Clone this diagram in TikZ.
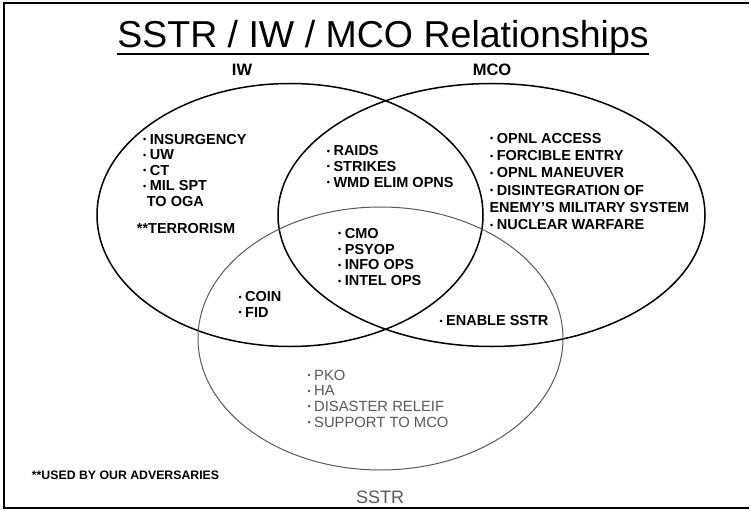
\documentclass[tikz,border=0pt]{standalone}
\usepackage{fontspec}
\setmainfont{Liberation Sans}
\definecolor{sstrgray}{gray}{0.35}
\newcommand{\itm}{\raisebox{1.6pt}{\fontsize{9}{9}\selectfont\textbullet}\hspace{3.5pt}}

\begin{document}
\begin{tikzpicture}[x=1pt,y=-1pt,
    ring/.style={line width=1.5pt},
    sstrring/.style={line width=1pt,draw=sstrgray},
    opsbold/.style={font=\fontsize{14.5}{16}\selectfont\bfseries,anchor=base west,inner sep=0pt},
    sstrtext/.style={font=\fontsize{14.8}{16}\selectfont,text=sstrgray,anchor=base west,inner sep=0pt},
    setlabel/.style={font=\fontsize{16.5}{18}\selectfont\bfseries,anchor=base,inner sep=0pt}]
    \useasboundingbox (0,0) rectangle (750,511);
    % frame
    \draw[line width=1.2pt] (749,3) -- (4,3) -- (4,508) -- (749,508);
    % title
    \node[font=\fontsize{37.5}{40}\selectfont,anchor=base,inner sep=0pt] (title) at (383,48) {SSTR / IW / MCO Relationships};
    \draw[line width=1.4pt] ([yshift=-6pt]title.base west) -- ([yshift=-6pt]title.base east);
    % the three sets
    \coordinate (iwc) at (290,215);
    \coordinate (mcoc) at (491.5,215);
    \coordinate (sstrc) at (380.5,338.5);
    \draw[ring] (iwc) ellipse [x radius=193, y radius=131.5];
    \draw[ring] (mcoc) ellipse [x radius=213.5, y radius=131.5];
    \draw[sstrring] (sstrc) ellipse [x radius=182.5, y radius=131.5];
    \node[setlabel] (iw) at (242,75) {IW};
    \node[setlabel] (mco) at (492,75) {MCO};
    \node[font=\fontsize{18}{20}\selectfont,text=sstrgray,anchor=base,inner sep=0pt] (sstr) at (380,503.3) {SSTR};
    % IW only
    \foreach \t [count=\i] in {INSURGENCY,UW,CT,MIL SPT}
        \node[opsbold] (iw\i) at (143,{144+15.6*(\i-1)}) {\itm\t};
    \node[opsbold] (iw5) at (146.7,206.7) {TO OGA};
    \node[opsbold] (terror) at (136.7,233.3) {**TERRORISM};
    % IW and MCO
    \foreach \t [count=\i] in {RAIDS,STRIKES,WMD ELIM OPNS}
        \node[opsbold] (both\i) at (326.7,{155.7+15.8*(\i-1)}) {\itm\t};
    % MCO only
    \foreach \t [count=\i] in {OPNL ACCESS,FORCIBLE ENTRY,OPNL MANEUVER,DISINTEGRATION OF}
        \node[opsbold] (mco\i) at (490,{143.3+17.3*(\i-1)}) {\itm\t};
    \node[opsbold] (mco5) at (489.3,212.5) {ENEMY'S MILITARY SYSTEM};
    \node[opsbold] (mco6) at (490,229.8) {\itm NUCLEAR WARFARE};
    % all three
    \foreach \t [count=\i] in {CMO,PSYOP,INFO OPS,INTEL OPS}
        \node[opsbold] (all\i) at (338,{238.3+15.8*(\i-1)}) {\itm\t};
    % IW and SSTR
    \foreach \t [count=\i] in {COIN,FID}
        \node[opsbold] (iws\i) at (238.3,{301.7+15.6*(\i-1)}) {\itm\t};
    % MCO and SSTR
    \node[opsbold] (mcos) at (439.3,325.7) {\itm ENABLE SSTR};
    % SSTR only
    \foreach \t [count=\i] in {PKO,HA,DISASTER RELEIF,SUPPORT TO MCO}
        \node[sstrtext] (sstr\i) at (307.3,{380+15.7*(\i-1)}) {\itm\t};
    % footnote
    \node[font=\fontsize{12.3}{14}\selectfont\bfseries,anchor=base west,inner sep=0pt] (note) at (31.7,479) {**USED BY OUR ADVERSARIES};
\end{tikzpicture}
\end{document}
